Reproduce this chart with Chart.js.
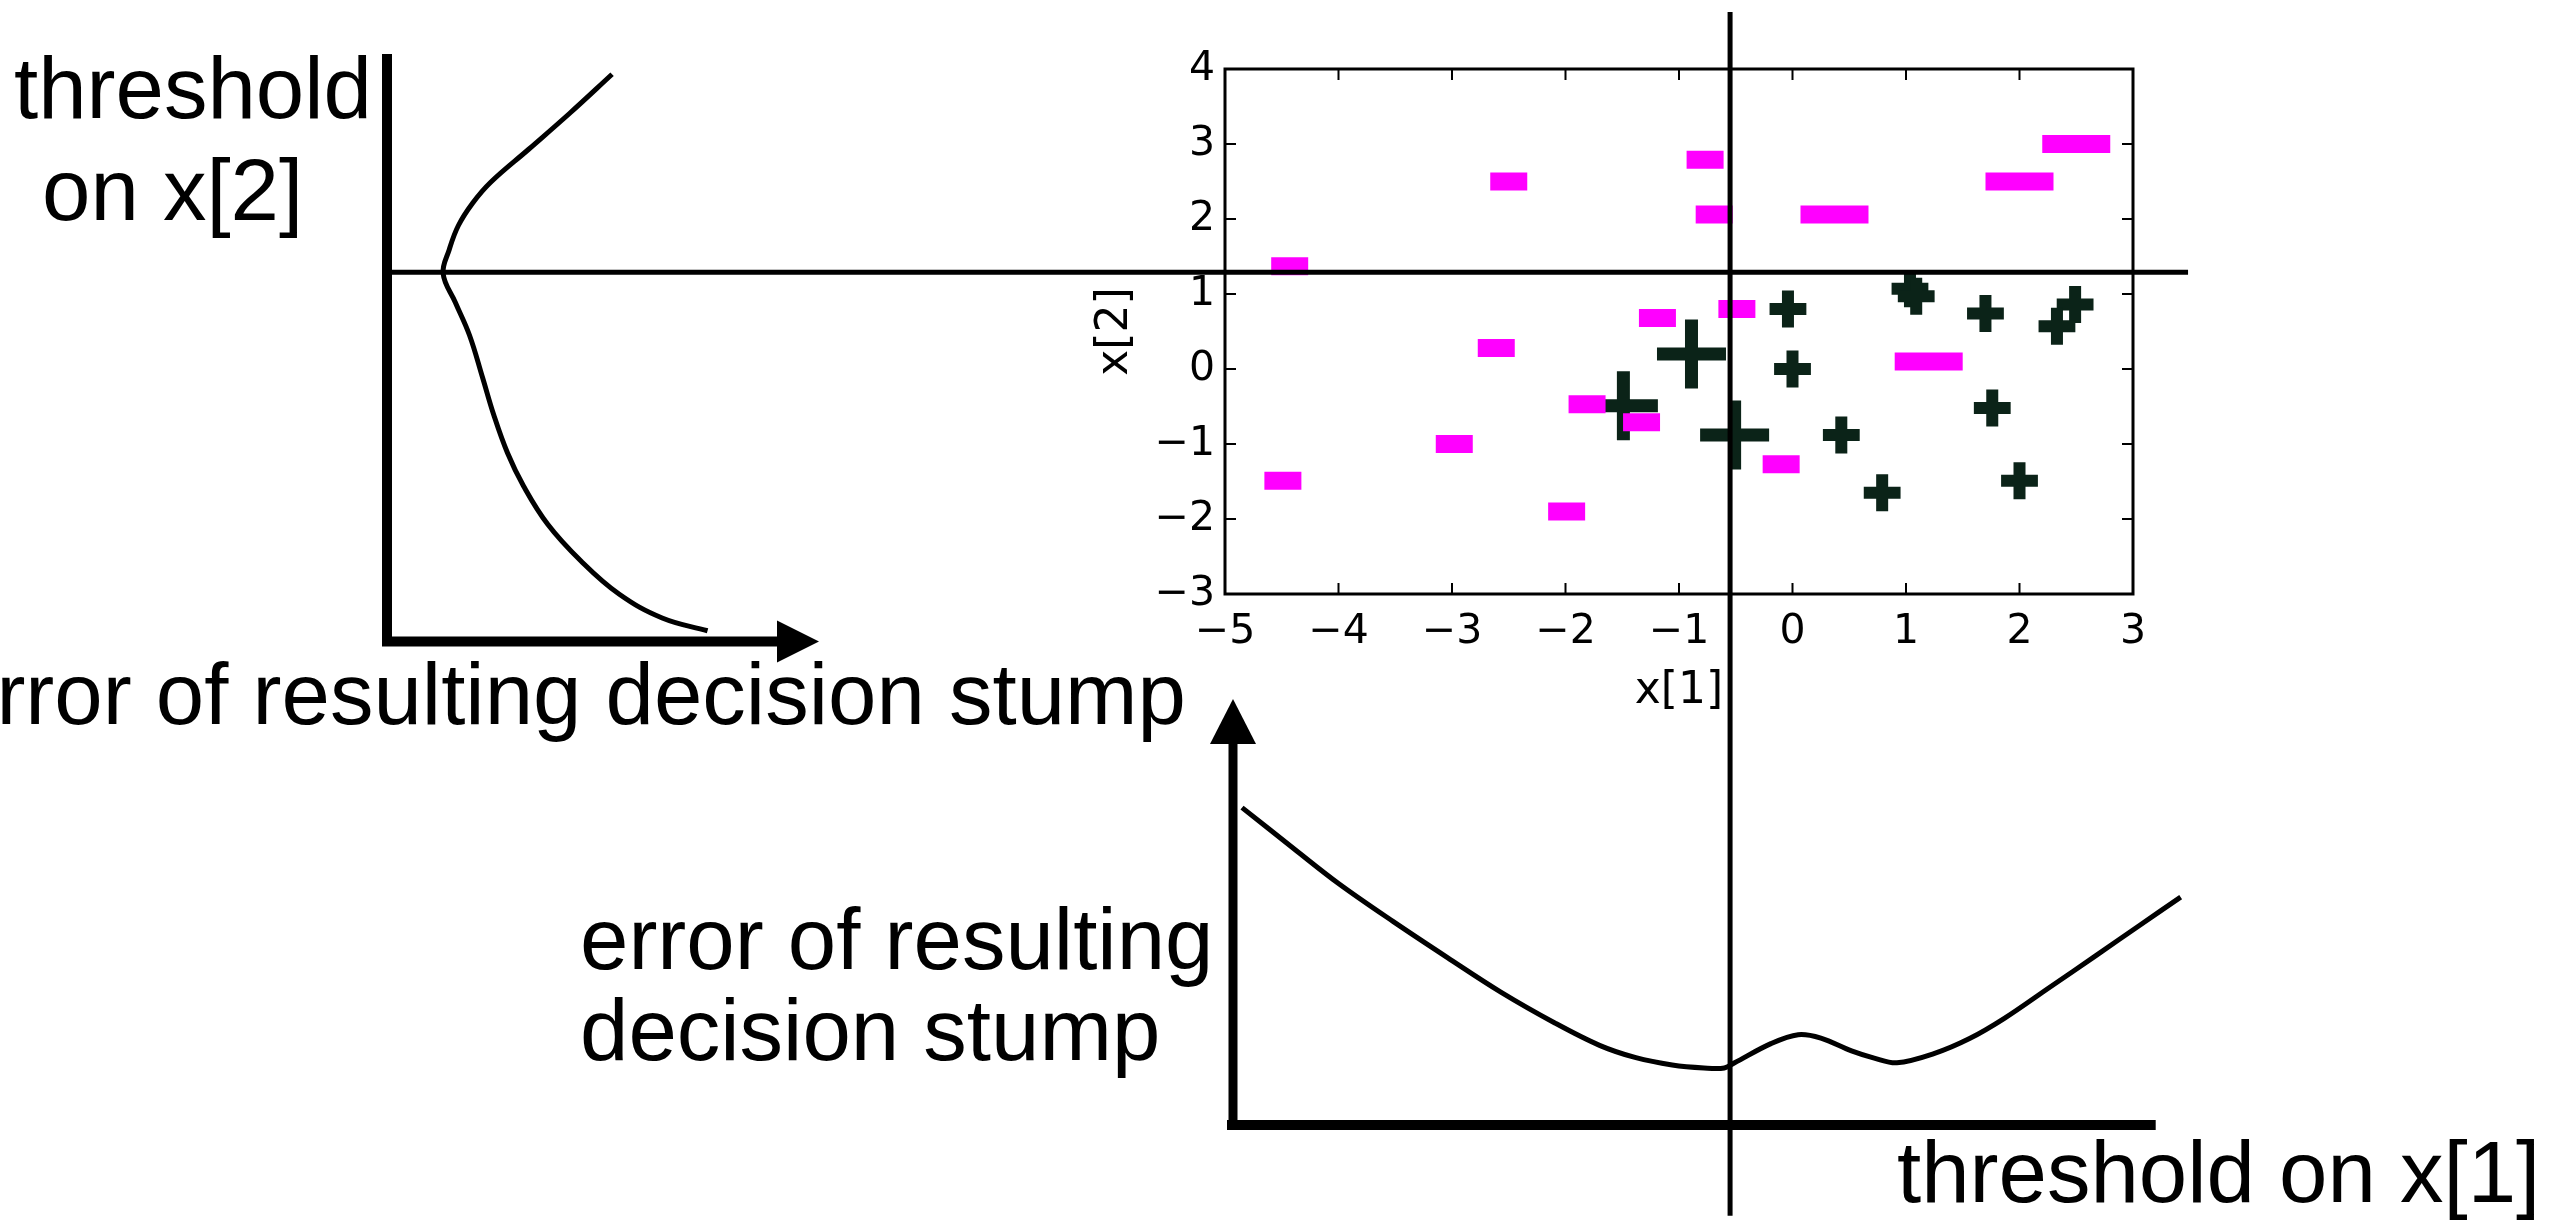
<!DOCTYPE html>
<html>
<head>
<meta charset="utf-8">
<script src="https://cdn.jsdelivr.net/npm/chart.js@4"></script>
<style>
  html, body { margin: 0; padding: 0; background: #fff; overflow: hidden; }
  canvas { position: absolute; left: 0; top: 0; }
  .lbl { position: absolute; font-family: "Liberation Sans", Arial, sans-serif; font-size: 87px; line-height: 1; color: #000; white-space: nowrap; z-index: 10; }
</style>
</head>
<body>
<canvas id="leftChart" width="2561" height="1221"></canvas>
<canvas id="bottomChart" width="2561" height="1221"></canvas>
<canvas id="scatterChart" width="2561" height="1221"></canvas>

<div class="lbl" style="left:14px;top:44px">threshold</div>
<div class="lbl" style="left:42px;top:146px">on x[2]</div>
<div class="lbl" style="left:-52px;top:650px">error of resulting decision stump</div>
<div class="lbl" style="left:580px;top:895px">error of resulting</div>
<div class="lbl" style="left:580px;top:986px">decision stump</div>
<div class="lbl" style="left:1897px;top:1128px">threshold on x[1]</div>

<script>
// training points, negatives ("-" markers), split by weight
var negSmallX = [-2.5, -0.77, -0.69, -4.43, -1.19, -0.49, -2.61, -1.81, -1.33, -2.98, -4.49, -1.99, -0.10];
var negSmallY = [2.5, 2.79, 2.06, 1.37, 0.68, 0.80, 0.28, -0.47, -0.71, -1.0, -1.49, -1.9, -1.27];
var negLargeX = [0.37, 2.0, 2.5, 1.2];
var negLargeY = [2.06, 2.5, 3.0, 0.1];
// positives ("+" markers)
var posSmallX = [-0.04, 0.0, 1.035, 1.09, 1.70, 2.49, 2.33, 1.76, 0.43, 0.79, 2.0];
var posSmallY = [0.80, 0.0, 1.07, 0.97, 0.74, 0.86, 0.57, -0.52, -0.88, -1.65, -1.49];
var posLargeX = [-0.89, -1.49, -0.51];
var posLargeY = [0.2, -0.49, -0.88];

var xTicks = [-5, -4, -3, -2, -1, 0, 1, 2, 3];
var yTicks = [-3, -2, -1, 0, 1, 2, 3, 4];

// chosen thresholds
var threshX1 = -0.55;
var threshX2 = 1.29;

// error curve vs threshold on x[2] (left panel)
var errLeft = [0.521, 0.423, 0.328, 0.240, 0.198, 0.165, 0.144, 0.130, 0.158, 0.191, 0.221, 0.247, 0.279, 0.316, 0.372, 0.449, 0.537, 0.637, 0.742];
var thrLeft = [3.93, 3.41, 2.93, 2.49, 2.21, 1.91, 1.59, 1.27, 0.89, 0.45, -0.11, -0.61, -1.12, -1.56, -2.07, -2.56, -3.0, -3.32, -3.49];

// error curve vs threshold on x[1] (bottom panel)
var thrBottom = [-4.85, -4.39, -4.0, -3.52, -3.04, -2.57, -2.09, -1.70, -1.38, -1.06, -0.78, -0.60, -0.51, -0.19, 0.05, 0.25, 0.52, 0.72, 0.92, 1.24, 1.56, 1.87, 2.27, 2.67, 3.06, 3.42];
var errBottom = [0.745, 0.648, 0.567, 0.478, 0.393, 0.312, 0.239, 0.187, 0.158, 0.141, 0.134, 0.134, 0.146, 0.191, 0.212, 0.204, 0.174, 0.157, 0.146, 0.167, 0.203, 0.251, 0.324, 0.397, 0.469, 0.535];

var INK = '#000000';
var POS = '#0b2318';
var NEG = '#ff00ff';

function pts(xs, ys) {
    var out = [];
    for (let i = 0; i < xs.length; i++) out.push({ x: xs[i], y: ys[i] });
    return out;
}

function minusFmt(v) {
    return v < 0 ? '\u2212' + Math.abs(v) : String(v);
}

Chart.defaults.animation = false;
Chart.defaults.responsive = false;
Chart.defaults.devicePixelRatio = 1;
Chart.defaults.plugins.legend.display = false;
Chart.defaults.plugins.tooltip.enabled = false;

// ---------- left panel: error vs threshold on x[2] ----------
var leftAxes = {
    id: 'leftAxes',
    beforeDatasetsDraw: function (chart) {
        var ctx = chart.ctx, a = chart.chartArea;
        ctx.save();
        ctx.strokeStyle = INK;
        ctx.fillStyle = INK;
        ctx.lineWidth = 10;
        ctx.beginPath();
        ctx.moveTo(a.left, a.top);
        ctx.lineTo(a.left, a.bottom);
        ctx.moveTo(a.left - 5, a.bottom - 5);
        ctx.lineTo(a.right - 42, a.bottom - 5);
        ctx.stroke();
        ctx.beginPath();
        ctx.moveTo(a.right - 42, a.bottom - 26);
        ctx.lineTo(a.right, a.bottom - 5);
        ctx.lineTo(a.right - 42, a.bottom + 16);
        ctx.closePath();
        ctx.fill();
        ctx.restore();
    }
};

new Chart(document.getElementById('leftChart'), {
    type: 'scatter',
    data: {
        datasets: [{
            data: pts(errLeft, thrLeft),
            showLine: true,
            borderColor: INK,
            borderWidth: 5,
            pointRadius: 0,
            tension: 0.4,
            clip: false
        }]
    },
    options: {
        layout: { padding: { left: 387, right: 1742, top: 54, bottom: 574.5 } },
        scales: {
            x: { type: 'linear', min: 0, max: 1, display: false },
            y: { type: 'linear', min: -3.7, max: 4.2, display: false }
        }
    },
    plugins: [leftAxes]
});

// ---------- bottom panel: error vs threshold on x[1] ----------
var bottomAxes = {
    id: 'bottomAxes',
    beforeDatasetsDraw: function (chart) {
        var ctx = chart.ctx, a = chart.chartArea;
        var ax = a.left + 8;
        ctx.save();
        ctx.strokeStyle = INK;
        ctx.fillStyle = INK;
        ctx.lineWidth = 9;
        ctx.beginPath();
        ctx.moveTo(ax, a.bottom + 5);
        ctx.lineTo(ax, a.top + 44);
        ctx.stroke();
        ctx.lineWidth = 10;
        ctx.beginPath();
        ctx.moveTo(a.left + 2, a.bottom);
        ctx.lineTo(a.right, a.bottom);
        ctx.stroke();
        ctx.beginPath();
        ctx.moveTo(ax - 23, a.top + 45);
        ctx.lineTo(ax, a.top);
        ctx.lineTo(ax + 23, a.top + 45);
        ctx.closePath();
        ctx.fill();
        ctx.restore();
    }
};

new Chart(document.getElementById('bottomChart'), {
    type: 'scatter',
    data: {
        datasets: [{
            data: pts(thrBottom, errBottom),
            showLine: true,
            borderColor: INK,
            borderWidth: 5,
            pointRadius: 0,
            tension: 0.35,
            clip: false
        }]
    },
    options: {
        layout: { padding: { left: 1225, right: 405.3, top: 699, bottom: 96 } },
        scales: {
            x: { type: 'linear', min: -5, max: 3.2, display: false },
            y: { type: 'linear', min: 0, max: 1, display: false }
        }
    },
    plugins: [bottomAxes]
});

// ---------- scatter of the training data ----------
var frameAndThresholds = {
    id: 'frameAndThresholds',
    afterDatasetsDraw: function (chart) {
        var ctx = chart.ctx, a = chart.chartArea;
        var sx = chart.scales.x, sy = chart.scales.y;
        var TICK = 11;
        ctx.save();
        ctx.strokeStyle = INK;
        ctx.lineWidth = 3;
        ctx.strokeRect(a.left, a.top, a.right - a.left, a.bottom - a.top);
        ctx.lineWidth = 2;
        ctx.beginPath();
        xTicks.forEach(function (v) {
            var px = sx.getPixelForValue(v);
            ctx.moveTo(px, a.bottom); ctx.lineTo(px, a.bottom - TICK);
            ctx.moveTo(px, a.top); ctx.lineTo(px, a.top + TICK);
        });
        yTicks.forEach(function (v) {
            var py = sy.getPixelForValue(v);
            ctx.moveTo(a.left, py); ctx.lineTo(a.left + TICK, py);
            ctx.moveTo(a.right, py); ctx.lineTo(a.right - TICK, py);
        });
        ctx.stroke();

        // threshold lines run across the whole figure
        ctx.lineWidth = 5;
        var vx = sx.getPixelForValue(threshX1);
        var hy = sy.getPixelForValue(threshX2);
        ctx.beginPath();
        ctx.moveTo(vx, sy.getPixelForValue(4.76));
        ctx.lineTo(vx, sy.getPixelForValue(-11.29));
        ctx.moveTo(sx.getPixelForValue(-12.42), hy);
        ctx.lineTo(sx.getPixelForValue(3.485), hy);
        ctx.stroke();
        ctx.restore();
    }
};

var tickFont = { family: 'DejaVu Sans', size: 41 };
var titleFont = { family: 'DejaVu Sans', size: 44 };

new Chart(document.getElementById('scatterChart'), {
    type: 'scatter',
    data: {
        datasets: [
            { data: pts(negSmallX, negSmallY), pointStyle: 'line', pointRadius: 18.5, borderWidth: 18, borderColor: NEG, backgroundColor: NEG, order: 0 },
            { data: pts(negLargeX, negLargeY), pointStyle: 'line', pointRadius: 34, borderWidth: 18, borderColor: NEG, backgroundColor: NEG, order: 0 },
            { data: pts(posSmallX, posSmallY), pointStyle: 'cross', pointRadius: 18.4, borderWidth: 12, borderColor: POS, backgroundColor: POS, order: 1 },
            { data: pts(posLargeX, posLargeY), pointStyle: 'cross', pointRadius: 34.5, borderWidth: 13, borderColor: POS, backgroundColor: POS, order: 1 }
        ]
    },
    options: {
        layout: { padding: { left: 1085, right: 428, top: 69, bottom: 499 } },
        elements: { point: { hoverRadius: 0 } },
        scales: {
            x: {
                type: 'linear', min: -5, max: 3,
                grid: { display: false, drawTicks: false },
                border: { display: false },
                afterBuildTicks: function (s) { s.ticks = xTicks.map(function (v) { return { value: v }; }); },
                ticks: { padding: 14, color: INK, font: tickFont, maxRotation: 0, autoSkip: false, callback: minusFmt },
                title: { display: true, text: 'x[1]', color: INK, font: titleFont, padding: { top: 0, bottom: 4 } },
                afterFit: function (s) { s.height = 128; s.paddingLeft = 0; s.paddingRight = 0; }
            },
            y: {
                type: 'linear', min: -3, max: 4,
                grid: { display: false, drawTicks: false },
                border: { display: false },
                afterBuildTicks: function (s) { s.ticks = yTicks.map(function (v) { return { value: v }; }); },
                ticks: { padding: 10, color: INK, font: tickFont, autoSkip: false, callback: minusFmt },
                title: { display: true, text: 'x[2]', color: INK, font: titleFont, padding: { top: 4, bottom: 0 } },
                afterFit: function (s) { s.width = 140; s.paddingTop = 0; s.paddingBottom = 0; }
            }
        }
    },
    plugins: [frameAndThresholds]
});
</script>
</body>
</html>
